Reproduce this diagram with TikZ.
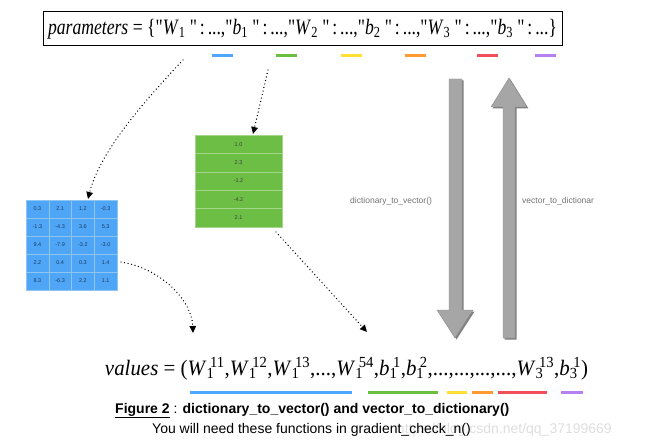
\documentclass[tikz,border=0pt]{standalone}
\usepackage{fontspec}
\setmainfont{Liberation Serif}
\newfontfamily\arial{Liberation Sans}
\usetikzlibrary{positioning,arrows.meta}

\definecolor{matblue}{HTML}{4FA6F7}
\definecolor{matline}{HTML}{8EC5F2}
\definecolor{vecgreen}{HTML}{6DBE45}
\definecolor{vecline}{HTML}{A3D68A}
\definecolor{cellink}{HTML}{1C3A5E}
\definecolor{barblue}{HTML}{4DA6FF}
\definecolor{bargreen}{HTML}{6ABF3F}
\definecolor{baryellow}{HTML}{FFE033}
\definecolor{barorange}{HTML}{FF9A33}
\definecolor{barred}{HTML}{F0505A}
\definecolor{barpurple}{HTML}{B780F0}
\definecolor{bigarrow}{HTML}{A6A6A6}

\newcommand{\subsup}[2]{\makebox[0pt][l]{\textsubscript{#1}}\,\textsuperscript{#2}}
\newcommand{\qt}{\textquotedbl}

\tikzset{
  bar/.style={fill=#1, minimum height=3pt, inner sep=0pt},
  mcell/.style={draw=matline, fill=matblue, minimum width=22.75pt, minimum height=18pt,
    inner sep=0pt, text=cellink, font=\arial\fontsize{5.5}{6}\selectfont},
  vcell/.style={draw=vecline, fill=vecgreen, minimum width=87pt, minimum height=18.4pt,
    inner sep=0pt, text=black!75, font=\arial\fontsize{5.5}{6}\selectfont},
  dotarrow/.style={line width=1.4pt, line cap=round, dash pattern=on 0pt off 3.6pt,
    -{Triangle[length=7pt,width=6.5pt]}},
  fname/.style={font=\arial\fontsize{8.5}{10}\selectfont, text=black!55, inner sep=0pt},
  blockarrow/.style={fill=bigarrow, draw=black!45, line width=0.4pt},
  captext/.style={inner sep=0pt, font=\arial\fontsize{14}{16}\selectfont},
}

\begin{document}
\begin{tikzpicture}[x=1pt, y=-1pt]
  \useasboundingbox (0,0) rectangle (658,446);

  % dictionary of parameters
  \node[draw, line width=1pt, minimum width=519pt, minimum height=34pt, inner sep=0pt,
        font=\fontsize{22}{24}\selectfont] (params) at (302.5,29)
    {\resizebox{509pt}{\height}{\textit{parameters} = \{\qt\textit{W}\textsubscript{1} \qt\,:\,...,\qt\textit{b}\textsubscript{1} \qt\,:\,...,\qt\textit{W}\textsubscript{2} \qt\,:\,...,\qt\textit{b}\textsubscript{2} \qt\,:\,...,\qt\textit{W}\textsubscript{3} \qt\,:\,...,\qt\textit{b}\textsubscript{3} \qt\,:\,...\}}};

  \node[bar=barblue,   minimum width=21pt] (pW1) at (222,56) {};
  \node[bar=bargreen,  minimum width=21pt] (pb1) at (286,56) {};
  \node[bar=baryellow, minimum width=21pt] (pW2) at (351,56) {};
  \node[bar=barorange, minimum width=21pt] (pb2) at (415,56) {};
  \node[bar=barred,    minimum width=21pt] (pW3) at (487,56) {};
  \node[bar=barpurple, minimum width=21pt] (pb3) at (545,56) {};

  % W1 as a matrix
  \foreach \row [count=\r from 0] in {{0.3,2.1,1.2,-0.3},{-1.3,-4.3,3.6,5.3},{9.4,-7.9,-3.2,-3.0},{2.2,0.4,0.3,1.4},{8.3,-6.3,2.2,1.1}}
    \foreach \v [count=\c from 0] in \row
      \node[mcell] (m-\r-\c) at (37.4+22.75*\c, 209+18*\r) {\v};

  % b1 as a vector
  \foreach \v [count=\r from 0] in {1.0,2.3,-1.2,-4.2,2.1}
    \node[vcell] (v-\r) at (238.5,144.2+18.4*\r) {\v};

  % flattened values
  \node[anchor=base, inner sep=0pt, font=\fontsize{22}{24}\selectfont] (vals) at (346.5,375)
    {\resizebox{483pt}{\height}{\textit{values} = (\textit{W}\subsup{1}{11},\textit{W}\subsup{1}{12},\textit{W}\subsup{1}{13},...,\textit{W}\subsup{1}{54},\textit{b}\subsup{1}{1},\textit{b}\subsup{1}{2},...,...,...,...,\textit{W}\subsup{3}{13},\textit{b}\subsup{3}{1})}};

  \node[bar=barblue,   minimum width=162pt] (vW1) at (271,392) {};
  \node[bar=bargreen,  minimum width=70pt]  (vb1) at (403,392) {};
  \node[bar=baryellow, minimum width=20pt]  (vW2) at (457,392) {};
  \node[bar=barorange, minimum width=21pt]  (vb2) at (482.5,392) {};
  \node[bar=barred,    minimum width=49pt]  (vW3) at (522.5,392) {};
  \node[bar=barpurple, minimum width=22pt]  (vb3) at (572,392) {};

  % dotted connectors
  \coordinate (s1) at (183,60);
  \coordinate (e1) at (88,199);
  \coordinate (s2) at (268,70);
  \coordinate (e2) at (253,134);
  \coordinate (s3) at (121,262);
  \coordinate (e3) at (193,333);
  \coordinate (s4) at (276,232);
  \coordinate (e4) at (367,332);
  \draw[dotarrow] (s1) .. controls (150,95) and (100,150) .. (e1);
  \draw[dotarrow] (s2) -- (e2);
  \draw[dotarrow] (s3) .. controls (160,268) and (192,300) .. (e3);
  \draw[dotarrow] (s4) -- (e4);

  % conversion arrows
  \fill[black!50] (450.5,80.5) -- (463.5,80.5) -- (463.5,311.5) -- (474.5,311.5) -- (456.5,339.5)
    -- (438.5,311.5) -- (450.5,311.5) -- cycle;
  \draw[blockarrow] (449,79) -- (462,79) -- (462,310) -- (473,310) -- (455,338)
    -- (437,310) -- (449,310) -- cycle;
  \fill[black!50] (504.5,339.5) -- (516.5,339.5) -- (516.5,108.5) -- (528.5,108.5) -- (510.5,79.5)
    -- (492.5,108.5) -- (504.5,108.5) -- cycle;
  \draw[blockarrow] (503,338) -- (515,338) -- (515,107) -- (527,107) -- (509,78)
    -- (491,107) -- (503,107) -- cycle;

  \node[fname, anchor=west] (d2v) at (350,201) {dictionary\_to\_vector()};
  \node[fname, anchor=west] (v2d) at (522,201) {vector\_to\_dictionar};

  % caption
  \node[captext, anchor=base west] (cap1) at (115,413)
    {\textbf{\underline{Figure 2}} : \textbf{dictionary\_to\_vector() and vector\_to\_dictionary()}};
  \node[captext, anchor=base east, text=black!13] (mark) at (612,433)
    {https://blog.csdn.net/qq\_37199669};
  \node[captext, anchor=base west] (cap2) at (152,433)
    {You will need these functions in gradient\_check\_n()};
\end{tikzpicture}
\end{document}
